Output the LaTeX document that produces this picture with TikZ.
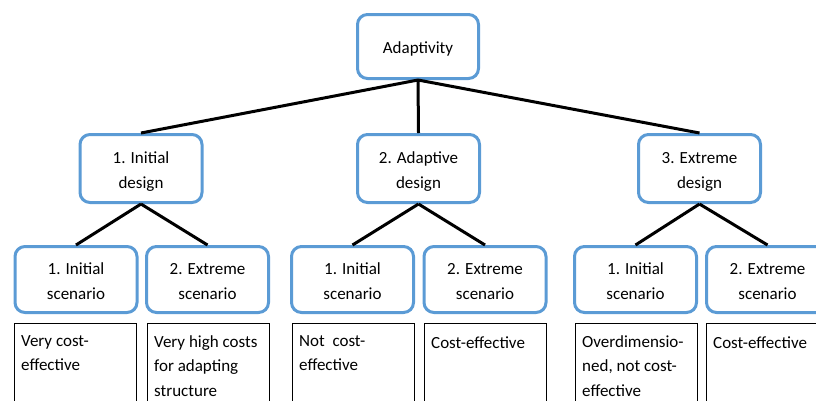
\documentclass[tikz,border=0pt]{standalone}
\usepackage{fontspec}
\setmainfont{Carlito}
\definecolor{boxblue}{HTML}{5B9BD5}
\tikzset{
  every node/.style={font=\fontsize{17}{24.5}\selectfont, inner sep=0pt},
  bluebox/.style={draw=boxblue, line width=3pt, rounded corners=10pt, fill=white,
    minimum width=122pt, align=center, text height=41pt, text depth=2pt},
  topbox/.style={bluebox, minimum width=121pt, minimum height=64pt,
    text height=17.6pt, text depth=4pt},
  midbox/.style={bluebox, minimum height=68pt},
  leafbox/.style={bluebox, minimum height=66pt},
  notebox/.style={draw=black, line width=1.3pt, minimum width=122pt,
    minimum height=100pt, anchor=north west},
  notetext/.style={anchor=north west, align=left,
    execute at begin node={\rule{0pt}{13pt}}},
  link/.style={draw=black, line width=3pt}
}
\begin{document}
\begin{tikzpicture}[x=1pt, y=-1pt]
\useasboundingbox (0,0) rectangle (816,400);
\clip (0,0) rectangle (816,400);

% root
\node[topbox] (root) at (418,46.5) {Adaptivity};

% design variants
\node[midbox] (d1) at (141,168.5) {1. Initial\\design};
\node[midbox] (d2) at (418.5,168.5) {2. Adaptive\\design};
\node[midbox] (d3) at (699.5,168.5) {3. Extreme\\design};

% scenarios
\node[leafbox] (s11) at (76,279.5) {1. Initial\\scenario};
\node[leafbox] (s12) at (207.5,279.5) {2. Extreme\\scenario};
\node[leafbox] (s21) at (352.5,279.5) {1. Initial\\scenario};
\node[leafbox] (s22) at (485,279.5) {2. Extreme\\scenario};
\node[leafbox] (s31) at (635.5,279.5) {1. Initial\\scenario};
\node[leafbox] (s32) at (767.5,279.5) {2. Extreme\\scenario};

% assessment boxes
\node[notebox] (n11) at (14,323) {};
\node[notebox] (n12) at (147,323) {};
\node[notebox] (n21) at (292,323) {};
\node[notebox] (n22) at (424,323) {};
\node[notebox] (n31) at (575,323) {};
\node[notebox] (n32) at (706,323) {};

\node[notetext] (t11) at ([shift={(7,12)}]n11.north west) {Very cost-\\effective};
\node[notetext] (t12) at ([shift={(7,12)}]n12.north west) {Very high costs\\for adapting\\structure};
\node[notetext] (t21) at ([shift={(7,12)}]n21.north west) {Not~~cost-\\effective};
\node[notetext] (t22) at ([shift={(7,12)}]n22.north west) {Cost-effective};
\node[notetext] (t31) at ([shift={(7,12)}]n31.north west) {Overdimensio-\\ned, not cost-\\effective};
\node[notetext] (t32) at ([shift={(7,12)}]n32.north west) {Cost-effective};

% tree connectors
\draw[link] (root.south) -- (d1.north);
\draw[link] (root.south) -- (d2.north);
\draw[link] (root.south) -- (d3.north);
\draw[link] (d1.south) -- (s11.north);
\draw[link] (d1.south) -- (s12.north);
\draw[link] (d2.south) -- (s21.north);
\draw[link] (d2.south) -- (s22.north);
\draw[link] (d3.south) -- (s31.north);
\draw[link] (d3.south) -- (s32.north);
\end{tikzpicture}
\end{document}
